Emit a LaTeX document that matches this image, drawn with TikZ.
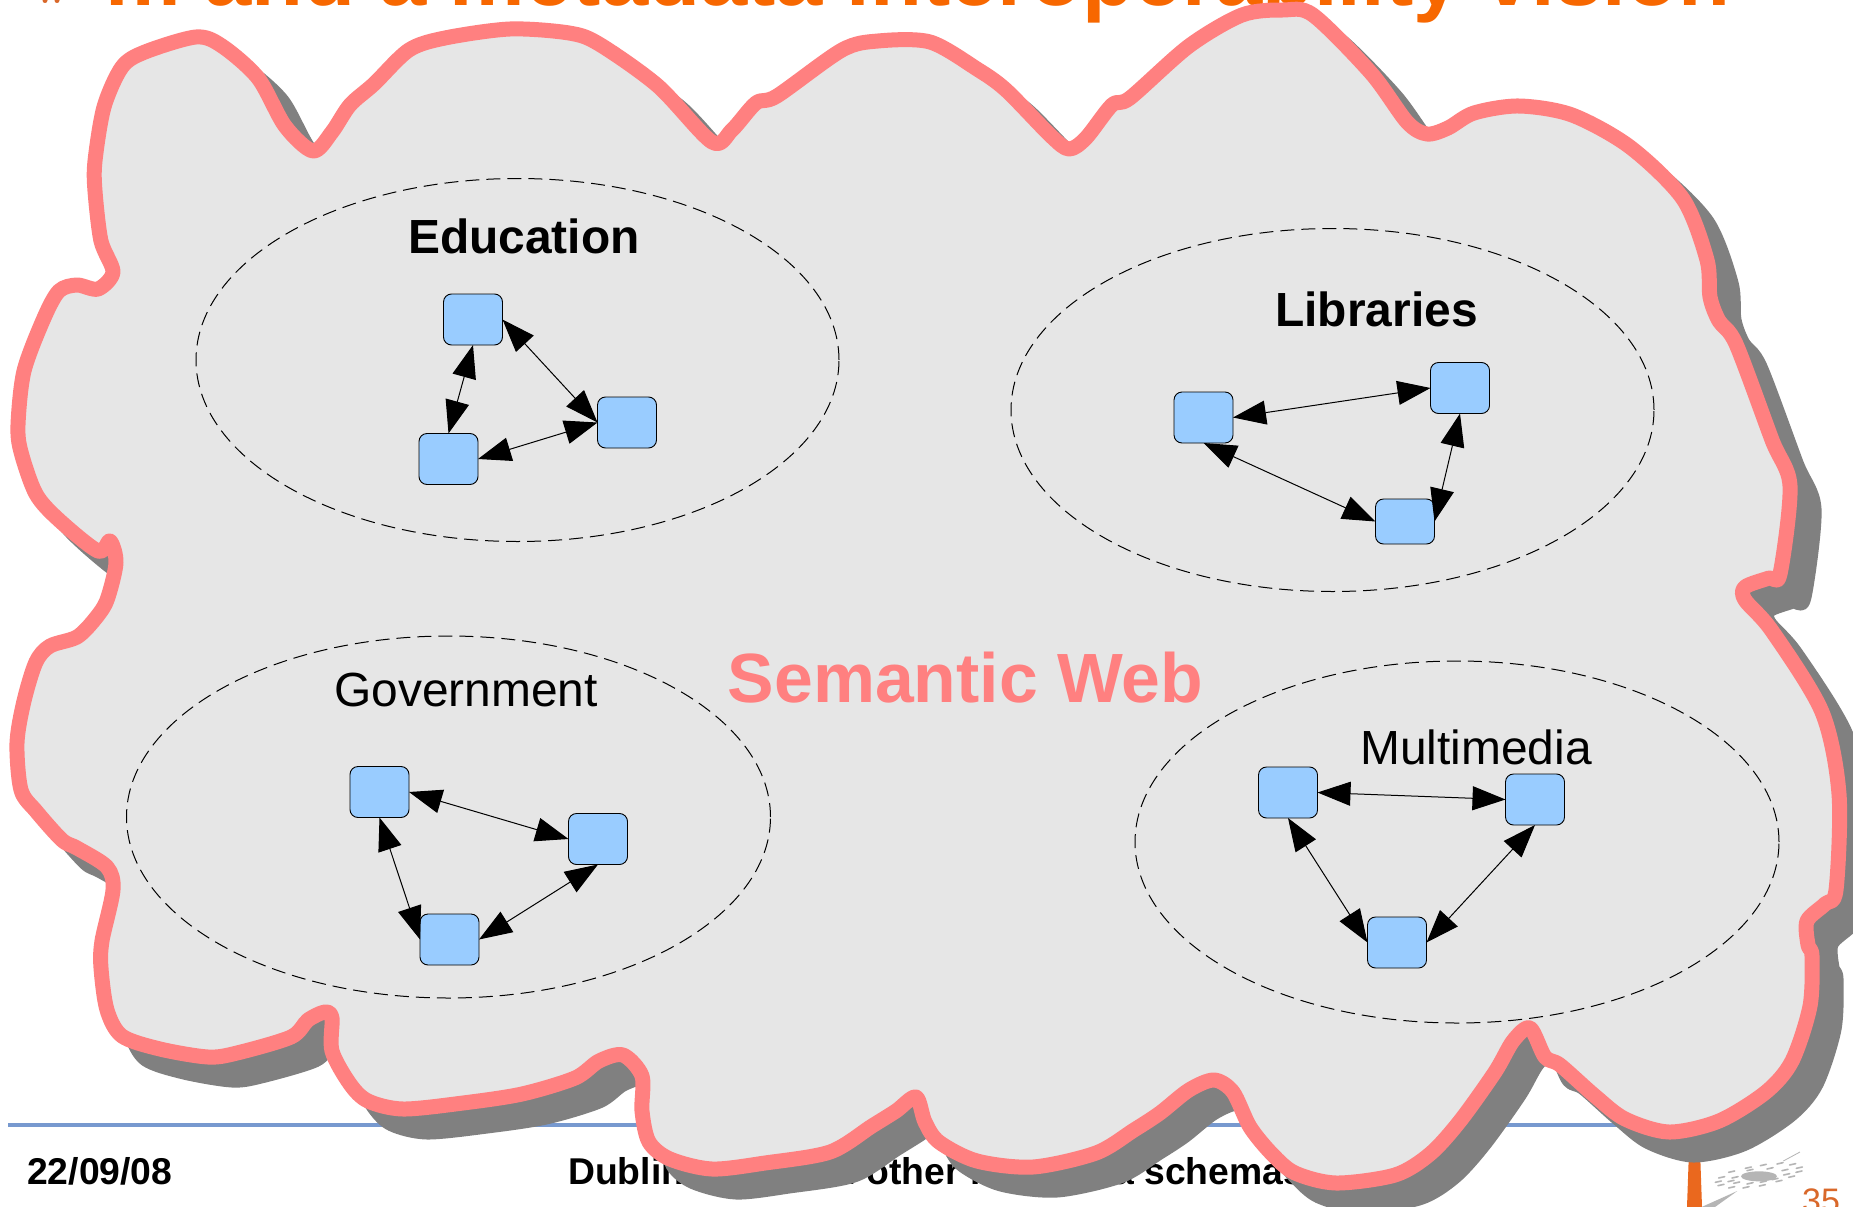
\documentclass[tikz,border=0pt]{standalone}
\usepackage{fontspec}
\setmainfont{Liberation Sans}
\usetikzlibrary{arrows.meta}
\definecolor{cloudpink}{HTML}{FF8080}
\definecolor{cloudfill}{HTML}{E6E6E6}
\definecolor{cloudshadow}{HTML}{808080}
\definecolor{boxblue}{HTML}{99CCFF}
\definecolor{titleorange}{HTML}{F76700}
\definecolor{pageorange}{HTML}{D9682A}
\definecolor{postorange}{HTML}{EA681E}
\definecolor{rulecolor}{HTML}{7799CF}
\definecolor{logogray}{HTML}{B5B5B5}
\tikzset{
  bluebox/.style={draw=black,line width=0.9pt,fill=boxblue,rounded corners=8pt,minimum width=59pt,minimum height=51pt,inner sep=0pt,outer sep=0pt},
  biarrow/.style={line width=1pt,black,{Triangle[length=33pt,width=24pt]}-{Triangle[length=33pt,width=24pt]}},
  domainring/.style={draw=black,line width=1pt,dash pattern=on 14pt off 7pt},
  arealabel/.style={anchor=base,inner sep=0pt,font=\fontsize{47.9}{50}\selectfont},
  arealabelbold/.style={anchor=base,inner sep=0pt,font=\fontsize{47.9}{50}\selectfont\bfseries},
  footertext/.style={anchor=base west,inner sep=0pt,font=\fontsize{37.3}{40}\selectfont\bfseries},
  cloudline/.style={line width=15pt,line join=round},
}
\def\cloudpts{(95,161)(104,107)(122,67)(145,52)(196,37)(222,46)(258,78)(285,126)(313,151)(332,132)(350,105)(374,84)(409,50)(445,38)(510,29)(569,33)(599,44)(658,86)(712,142)(732,130)(756,103)(777,96)(842,50)(878,41)(930,42)(977,69)(1006,90)(1051,136)(1069,149)(1086,138)(1112,105)(1130,98)(1189,46)(1242,15)(1283,10)(1313,15)(1371,73)(1407,122)(1427,134)(1448,128)(1474,113)(1519,106)(1572,115)(1630,147)(1683,199)(1707,260)(1710,297)(1719,321)(1736,344)(1772,440)(1790,486)(1780,574)(1769,578)(1745,587)(1745,600)(1772,631)(1822,712)(1839,794)(1836,890)(1825,904)(1807,921)(1808,945)(1812,956)(1810,1006)(1792,1061)(1766,1092)(1719,1121)(1669,1132)(1625,1119)(1595,1096)(1560,1065)(1545,1057)(1530,1028)(1513,1041)(1495,1072)(1460,1121)(1430,1154)(1395,1175)(1336,1183)(1295,1173)(1272,1154)(1250,1127)(1233,1092)(1214,1080)(1189,1090)(1160,1113)(1134,1130)(1096,1153)(1033,1167)(977,1161)(939,1142)(925,1122)(916,1097)(896,1111)(872,1126)(830,1152)(765,1163)(712,1169)(670,1159)(649,1142)(642,1111)(642,1076)(623,1055)(599,1061)(575,1078)(522,1094)(463,1103)(403,1109)(368,1101)(350,1084)(332,1051)(332,1018)(325,1012)(308,1020)(291,1037)(237,1053)(208,1057)(160,1049)(122,1036)(107,1010)(101,968)(102,941)(113,890)(107,867)(77,848)(62,840)(36,811)(21,790)(17,743)(24,701)(36,662)(50,646)(77,637)(95,619)(107,600)(116,563)(110,541)(98,551)(59,520)(36,494)(21,452)(18,425)(24,371)(44,318)(59,291)(77,285)(98,289)(113,272)(101,241)(95,191)}
\begin{document}
\begin{tikzpicture}[x=1pt,y=-1pt]
\useasboundingbox (0,0) rectangle (1853,1207);
\clip (0,0) rectangle (1853,1207);
\fill[white] (0,0) rectangle (1853,1207);
% slide behind the cloud
\node[anchor=base west,inner sep=0pt,text=titleorange,font=\fontsize{85}{90}\selectfont\bfseries] (title) at (105,6) {m and a metadata interoperability vision};
\fill[pageorange] (45,0.5) circle (2.5pt) (57,0.5) circle (2.5pt);
\draw[rulecolor,line width=4pt] (8,1125) -- (1660,1125);
\node[footertext] (date) at (27,1184) {22/09/08};
\node[footertext] (foot) at (568,1184) {Dublin Core and other metadata schemas};
\fill[postorange] (1689,1150) -- (1700,1150) -- (1702,1207) -- (1687,1207) -- cycle;
\begin{scope}[shift={(1600,1080)},x=0.3333pt,y=-0.3333pt]
  \fill[logogray] (477,289) ellipse [x radius=18pt,y radius=5pt];
  \fill[logogray] (305,381) -- (412,333) -- (345,381) -- cycle;
  \draw[logogray,line width=0.8pt] (550,243) -- (600,216);
  \foreach \a/\b in {395/275,445/263,490/255,540/250,578/253,598/263,597/275,575/290,537/303,487/316,438/322,395/322,363/315,355/305,365/292,405/292,450/270,510/265,555/270,560/283,525/297,490/305,450/310,410/308,393/303}
    \draw[logogray,line width=1.6pt,line cap=round] ({\a-9},{\b+2}) -- ({\a+9},{\b-2});
\end{scope}
\node[anchor=base west,inner sep=0pt,text=pageorange,font=\fontsize{34}{36}\selectfont] (page) at (1802,1212) {35};
% cloud
\begin{scope}[shift={(24,23)}]
  \filldraw[cloudshadow,cloudline] plot[smooth cycle,tension=0.5] coordinates {\cloudpts};
\end{scope}
\filldraw[draw=cloudpink,fill=cloudfill,cloudline] plot[smooth cycle,tension=0.5] coordinates {\cloudpts};
% domains
\draw[domainring] (517.5,360) ellipse [x radius=321.5pt,y radius=181.5pt];
\draw[domainring] (1332.5,410) ellipse [x radius=321.5pt,y radius=181.5pt];
\draw[domainring] (448.5,817) ellipse [x radius=322pt,y radius=181pt];
\draw[domainring] (1457,842) ellipse [x radius=322pt,y radius=181pt];
% labels
\node[arealabelbold] (edu) at (524,253) {Education};
\node[arealabelbold] (lib) at (1376.5,326) {Libraries};
\node[arealabel] (gov) at (466,706.5) {Government};
\node[arealabel] (mul) at (1476,764.5) {Multimedia};
\node[anchor=base,inner sep=0pt,text=cloudpink,font=\fontsize{69.7}{72}\selectfont\bfseries] (sw) at (965.5,702.5) {Semantic Web};
% boxes
\node[bluebox] (A) at (473,319.5) {};
\node[bluebox] (B) at (627,422.5) {};
\node[bluebox] (C) at (448.5,459) {};
\node[bluebox] (L1) at (1203.5,417.5) {};
\node[bluebox] (L2) at (1460,388) {};
\node[bluebox,minimum height=45pt] (L3) at (1405,521.5) {};
\node[bluebox] (G1) at (379.5,792) {};
\node[bluebox] (G2) at (598,839) {};
\node[bluebox] (G3) at (449.5,939.5) {};
\node[bluebox] (M1) at (1288,792.5) {};
\node[bluebox] (M2) at (1535,799.5) {};
\node[bluebox] (M3) at (1397,942.5) {};
% connectors
\draw[biarrow] (A.east) -- (B.west);
\draw[biarrow] (A.south) -- (C.north);
\draw[biarrow] (B.west) -- (C.east);
\draw[biarrow] (L1.east) -- (L2.west);
\draw[biarrow] (L1.south) -- (L3.west);
\draw[biarrow] (L2.south) -- (L3.east);
\draw[biarrow] (G1.east) -- (G2.west);
\draw[biarrow] (G1.south) -- (G3.west);
\draw[biarrow] (G2.south) -- (G3.east);
\draw[biarrow] (M1.east) -- (M2.west);
\draw[biarrow] (M1.south) -- (M3.west);
\draw[biarrow] (M2.south) -- (M3.east);
\end{tikzpicture}
\end{document}
